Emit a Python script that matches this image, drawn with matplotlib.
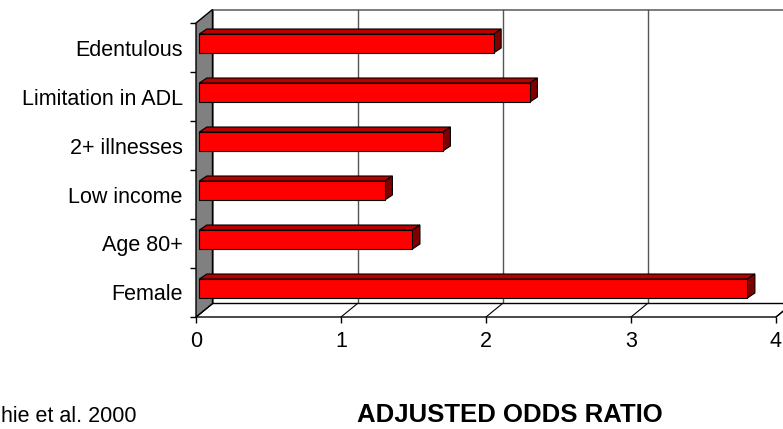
import numpy as np
import matplotlib
matplotlib.use('Agg')
import matplotlib.pyplot as plt
from matplotlib.patches import Polygon, Rectangle

## Données
categories = ['Female', 'Age 80+', 'Low income', '2+ illnesses', 'Limitation in ADL', 'Edentulous']
odds = [3.78, 1.47, 1.28, 1.68, 2.28, 2.03]
x_ticks = [0, 1, 2, 3, 4]
x_label = 'ADJUSTED ODDS RATIO'
source = 'hie et al. 2000'

plt.rcParams['font.family'] = ['Liberation Sans', 'DejaVu Sans']

W, H = 783, 429
fig = plt.figure(figsize=(W / 100, H / 100), dpi=100)
# plan avant : x 0..4 -> px 196..776, categories -> px 317..23
ax = fig.add_axes([196 / W, (H - 317) / H, 580 / W, 294 / H])
ax.set_xlim(0, 4)
ax.set_ylim(-0.5, len(categories) - 0.5)
ax.patch.set_visible(False)
for s in ax.spines.values():
    s.set_visible(False)

## Profondeur 3D (en unités de données)
dx, dy = 16.5 / 145, 13.5 / 49      # plan du fond
fx, fy = 3.3 / 145, 4.0 / 49        # face avant des barres
bx, by = 7.5 / 145, 5.0 / 49        # épaisseur des barres
h = 19.0 / 49
y0, y1 = -0.5, len(categories) - 0.5
xm = x_ticks[-1]

# mur du fond + grille
ax.add_patch(Polygon([(dx, y0 + dy), (xm + dx, y0 + dy), (xm + dx, y1 + dy), (dx, y1 + dy)],
                     closed=True, fc='white', ec='#666666', lw=1.2, zorder=1, clip_on=False))
for k in x_ticks[1:]:
    ax.plot([k + dx, k + dx], [y0 + dy, y1 + dy], color='#555555', lw=1.0, zorder=1.5, clip_on=False)

# sol
ax.add_patch(Polygon([(0, y0), (xm, y0), (xm + dx, y0 + dy), (dx, y0 + dy)],
                     closed=True, fc='white', ec='black', lw=1.0, zorder=2, clip_on=False))
for k in x_ticks:
    ax.plot([k, k + dx], [y0, y0 + dy], color='black', lw=0.8, zorder=2.1, clip_on=False)

# mur gauche
ax.add_patch(Polygon([(0, y0), (dx, y0 + dy), (dx, y1 + dy), (0, y1)],
                     closed=True, fc='#808080', ec='black', lw=1.0, zorder=3, clip_on=False))

## Barres
for i, v in enumerate(odds):
    yb = i - h / 2 + fy
    yt = i + h / 2 + fy
    ax.add_patch(Polygon([(fx, yt), (fx + v, yt), (fx + v + bx, yt + by), (fx + bx, yt + by)],
                         closed=True, fc='#b80000', ec='black', lw=0.8, zorder=4))
    ax.add_patch(Polygon([(fx + v, yb), (fx + v + bx, yb + by), (fx + v + bx, yt + by), (fx + v, yt)],
                         closed=True, fc='#800000', ec='black', lw=0.8, zorder=4))
    ax.add_patch(Rectangle((fx, yb), v, h, fc='#ff0000', ec='black', lw=0.8, zorder=5))

## Axes
ax.set_xticks(x_ticks)
ax.set_xticklabels([str(t) for t in x_ticks])
ax.tick_params(axis='x', direction='out', length=4, width=1, pad=6, labelsize=15.5)
ax.set_yticks(np.arange(len(categories)))
ax.set_yticklabels(categories)
ax.set_yticks(np.arange(len(categories) + 1) - 0.5, minor=True)
ax.tick_params(axis='y', which='major', length=0, pad=9.5, labelsize=15.5)
ax.tick_params(axis='y', which='minor', direction='out', length=4, width=1)

fig.text(510 / W, (H - 421.7) / H, x_label, ha='center', va='baseline',
         fontsize=18.5, fontweight='bold')
fig.text(1 / W, 2 / H, source, ha='left', va='bottom', fontsize=15.5)

fig.savefig('out.png', dpi=100)
